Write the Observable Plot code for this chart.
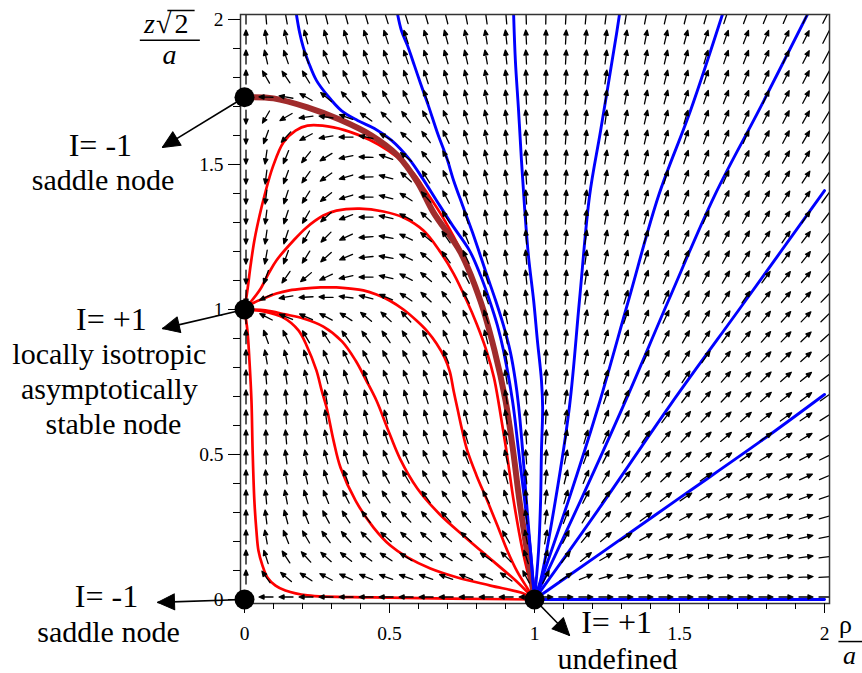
<!DOCTYPE html>
<html>
<head>
<meta charset="utf-8">
<script src="https://cdn.jsdelivr.net/npm/d3@7"></script>
<script src="https://cdn.jsdelivr.net/npm/@observablehq/plot@0.6"></script>
<style>
  html, body { margin: 0; padding: 0; background: #fff; }
</style>
</head>
<body>
<div id="chart"></div>
<script>
// Sample grid of the direction field (rho/a across, z*sqrt(2)/a up).
const gridX = [0, 0.069, 0.138, 0.207, 0.276, 0.345, 0.414, 0.483, 0.552, 0.621, 0.690, 0.759, 0.828, 0.897, 0.966,
               1.034, 1.103, 1.172, 1.241, 1.310, 1.379, 1.448, 1.517, 1.586, 1.655, 1.724, 1.793, 1.862, 1.931, 2.000];
const gridY = [0, 0.069, 0.138, 0.207, 0.276, 0.345, 0.414, 0.483, 0.552, 0.621, 0.690, 0.759, 0.828, 0.897, 0.966,
               1.034, 1.103, 1.172, 1.241, 1.310, 1.379, 1.448, 1.517, 1.586, 1.655, 1.724, 1.793, 1.862, 1.931, 2.000];

// Field direction at each grid node, degrees counter-clockwise from +rho; one row per gridY value.
const arrowAngles = [
  [null,180,180,180,180,180,180,180,180,180,180,180,180,180,180, 0,0,0,0,0,0,0,0,0,0,0,0,0,0,0],
  [90,125,140,147,152,155,158,160,161,161,160,158,155,145,118, 63,34,22,16,12,10,9,8,7,6,5,5,5,4,4],
  [90,108,123,132,138,142,145,147,148,149,149,148,145,135,108, 76,53,39,30,24,20,17,15,13,12,11,10,9,8,8],
  [90,100,112,120,126,131,135,138,139,140,140,138,133,120,101, 80,63,50,41,34,29,25,22,19,18,16,15,14,13,12],
  [90,97,105,112,118,123,127,130,132,132,132,129,124,113,98, 83,69,58,49,42,36,32,28,25,23,21,19,18,17,15],
  [90,95,101,107,112,117,121,124,126,126,125,122,117,108,96, 84,73,63,55,48,42,38,34,31,28,26,24,22,20,19],
  [90,94,99,103,107,111,115,118,120,120,119,117,112,105,95, 85,76,67,60,53,48,43,39,35,32,30,28,26,24,23],
  [90,93,97,100,104,107,110,113,114,115,114,112,108,103,94, 86,78,70,63,57,52,47,43,40,36,34,31,29,27,26],
  [90,92,95,98,101,103,106,108,110,110,109,107,104,100,94, 86,79,73,66,61,56,51,47,43,40,37,35,33,31,29],
  [90,92,94,97,99,101,103,105,106,106,106,104,102,99,94, 87,81,75,69,63,59,54,50,47,44,41,38,36,34,32],
  [90,92,95,97,100,102,104,106,107,107,106,104,102,99,95, 87,82,76,71,66,61,57,53,50,47,44,41,39,37,35],
  [90,95,98,102,105,108,111,112,112,111,108,105,102,99,96, 87,82,77,72,68,63,59,56,52,49,46,44,41,39,37],
  [90,100,104,108,112,115,117,118,118,116,112,107,103,100,96, 88,83,78,74,69,65,62,58,55,52,49,46,44,42,40],
  [90,110,115,120,123,125,126,125,123,119,114,109,104,100,97, 88,83,79,75,71,67,63,60,57,54,51,49,46,44,42],
  [90,153,158,156,152,147,141,137,132,127,121,115,108,102,97, 88,84,80,76,72,69,65,62,59,56,53,51,48,46,44],
  [270,205,190,183,178,173,166,157,147,137,127,117,109,102,97, 88,84,81,77,73,70,67,63,61,58,55,53,50,48,46],
  [270,250,235,220,205,192,180,167,153,140,128,117,108,101,96, 88,85,81,78,74,71,68,65,62,59,57,54,52,50,48],
  [270,260,250,238,222,203,185,170,155,140,126,115,106,99,95, 88,85,82,78,75,72,69,66,63,61,58,56,54,52,50],
  [270,262,252,240,225,205,184,170,155,140,125,112,103,97,94, 88,85,82,79,76,73,70,67,65,62,60,57,55,53,51],
  [270,263,252,240,222,200,180,168,152,137,122,108,100,95,93, 89,86,83,80,77,74,71,69,66,63,61,59,57,55,53],
  [270,263,252,238,218,197,180,165,148,132,118,108,102,97,94, 89,86,83,80,77,75,72,69,67,65,62,60,58,56,54],
  [270,263,250,235,215,197,182,165,138,122,115,108,103,98,94, 89,86,83,81,78,75,73,70,68,66,63,61,59,57,55],
  [270,262,248,232,212,192,178,160,142,128,118,109,102,97,94, 89,86,84,81,78,76,74,71,69,67,65,62,60,59,57],
  [270,250,228,208,190,180,168,150,138,127,116,107,100,96,93, 89,86,84,81,79,77,74,72,70,68,66,63,62,60,58],
  [270,240,210,188,172,160,145,135,128,120,113,107,102,97,94, 89,86,84,82,79,77,75,73,71,68,66,64,63,61,59],
  [270,178,170,150,140,132,125,120,115,110,106,103,100,96,93, 89,87,84,82,80,78,75,73,71,69,67,65,63,62,60],
  [90,120,124,121,117,115,113,112,110,108,106,103,100,96,93, 89,87,85,82,80,78,76,74,72,70,68,66,64,63,61],
  [90,103,109,111,112,111,110,110,109,108,106,103,100,96,93, 89,87,85,83,81,79,77,75,73,71,69,67,65,63,62],
  [90,97,102,105,106,107,108,108,108,107,105,102,99,96,93, 89,87,85,83,81,79,77,75,73,71,69,68,66,64,63],
  [90,95,100,102,104,105,106,107,107,106,104,101,98,95,92, 89,87,85,83,81,79,77,76,74,72,70,68,67,65,63]
];

// Separatrix from the ring to the upper saddle.
const separatrix = [[0,1.732],[0.100,1.728],[0.217,1.697],[0.328,1.655],[0.438,1.600],[0.528,1.531],[0.597,1.438],
  [0.652,1.334],[0.745,1.197],[0.814,1.028],[0.862,0.859],[0.900,0.686],[0.926,0.514],[0.948,0.341],[0.974,0.169],[1,0]];

// Trajectories ending in the stable node (0, 1).
const redTop = [[0,1],[0.010,1.066],[0.021,1.152],[0.034,1.238],[0.052,1.324],[0.069,1.393],[0.097,1.490],[0.134,1.576],
  [0.176,1.617],[0.217,1.634],[0.307,1.628],[0.390,1.603],[0.462,1.569],[0.528,1.524],[0.583,1.469],[0.624,1.410],
  [0.686,1.314],[0.752,1.190],[0.814,1.038],[0.862,0.866],[0.897,0.696],[0.924,0.514],[0.945,0.341],[0.970,0.169],[1,0]];
const redArchHigh = [[0,1],[0.017,1.021],[0.052,1.066],[0.083,1.124],[0.110,1.169],[0.169,1.238],[0.214,1.283],
  [0.272,1.324],[0.317,1.341],[0.397,1.348],[0.479,1.338],[0.548,1.317],[0.617,1.272],[0.672,1.203],[0.721,1.124],
  [0.766,1.031],[0.800,0.952],[0.834,0.859],[0.860,0.766],[0.879,0.662],[0.903,0.514],[0.928,0.341],[0.959,0.169],[1,0]];
const redArchLow = [[0,1],[0.028,1.021],[0.066,1.038],[0.110,1.055],[0.155,1.066],[0.203,1.072],[0.262,1.076],
  [0.317,1.076],[0.366,1.072],[0.410,1.066],[0.455,1.052],[0.500,1.031],[0.548,1.000],[0.593,0.962],[0.631,0.924],
  [0.662,0.883],[0.690,0.834],[0.708,0.786],[0.721,0.720],[0.735,0.655],[0.750,0.586],[0.768,0.514],[0.800,0.428],
  [0.837,0.341],[0.872,0.255],[0.906,0.169],[0.941,0.095],[0.976,0.038],[1,0]];
const redFanUpper = [[0,1],[0.072,0.997],[0.141,0.983],[0.203,0.969],[0.272,0.941],[0.336,0.890],[0.383,0.824],
  [0.420,0.755],[0.455,0.686],[0.493,0.590],[0.536,0.486],[0.596,0.383],[0.672,0.295],[0.762,0.214],[0.855,0.134],
  [0.934,0.066],[1,0]];
const redFanLower = [[0,1],[0.066,0.993],[0.134,0.972],[0.186,0.928],[0.214,0.876],[0.248,0.790],[0.266,0.721],
  [0.283,0.662],[0.307,0.548],[0.331,0.455],[0.383,0.341],[0.445,0.248],[0.503,0.186],[0.562,0.145],[0.641,0.107],
  [0.734,0.076],[0.848,0.048],[0.962,0.021],[1,0]];
const redBottom = [[0,1],[0.010,0.928],[0.017,0.824],[0.024,0.686],[0.028,0.514],[0.034,0.341],[0.041,0.238],
  [0.048,0.169],[0.062,0.117],[0.079,0.076],[0.107,0.048],[0.141,0.031],[0.217,0.014],[0.445,0.007],[0.710,0.003],[1,0]];

// Trajectories leaving the ring and escaping the frame.
const blueOuterLeft = [[0.179,2.017],[0.190,1.955],[0.203,1.903],[0.221,1.852],[0.248,1.790],[0.286,1.738],[0.334,1.686],
  [0.390,1.652],[0.448,1.624],[0.507,1.583],[0.566,1.521],[0.614,1.452],[0.662,1.376],[0.717,1.290],[0.776,1.203],
  [0.814,1.117],[0.845,1.031],[0.872,0.945],[0.893,0.859],[0.924,0.686],[0.945,0.514],[0.966,0.341],[0.986,0.169],[1,0]];
const blueLeft = [[0.528,2.017],[0.541,1.962],[0.562,1.910],[0.586,1.841],[0.607,1.779],[0.634,1.703],[0.666,1.607],
  [0.697,1.524],[0.721,1.445],[0.752,1.359],[0.786,1.266],[0.834,1.124],[0.866,1.031],[0.893,0.945],[0.917,0.852],
  [0.934,0.755],[0.945,0.669],[0.959,0.514],[0.972,0.341],[0.986,0.169],[1,0]];
const blueUp = [[0.928,2.017],[0.934,1.859],[0.945,1.686],[0.955,1.514],[0.966,1.348],[0.979,1.186],[0.997,1.031],
  [1.010,0.893],[1.024,0.755],[1.028,0.662],[1.024,0.514],[1.021,0.341],[1.014,0.169],[1,0]];
const blueSteep = [[1.293,2.017],[1.283,1.952],[1.228,1.617],[1.190,1.393],[1.155,1.031],[1.121,0.669],[1.072,0.341],[1.021,0.066],[1,0]];
const blueMid = [[1.648,2.017],[1.538,1.686],[1.428,1.393],[1.324,1.031],[1.221,0.669],[1.117,0.341],[1,0]];
const blueWide = [[1.941,2.017],[1.779,1.697],[1.621,1.393],[1.462,1.031],[1.310,0.676],[1.159,0.341],[1,0]];
const blueDiag = [[1,0],[1.228,0.321],[1.469,0.672],[1.728,1.031],[2,1.410]];
const blueLow = [[1,0],[1.228,0.159],[1.503,0.352],[1.779,0.545],[2,0.707]];
const blueAxis = [[1,0],[2,0]];

// Equilibria and the ring.
const criticalPoints = [{x: 0, y: 0}, {x: 0, y: 1}, {x: 0, y: 1.732}, {x: 1, y: 0}];

// Pointer arrows from each point to its note.
const pointers = [
  {x1: 0, y1: 1.732, x2: -0.283, y2: 1.559},
  {x1: 0, y1: 1, x2: -0.283, y2: 0.934},
  {x1: 0, y1: 0, x2: -0.300, y2: -0.010},
  {x1: 1, y1: 0, x2: 1.121, y2: -0.124}
];
const indexLabels = [
  {text: "I= -1", x: -0.497, y: 1.531},
  {text: "I= +1", x: -0.459, y: 0.931},
  {text: "I= -1", x: -0.476, y: -0.027},
  {text: "I= +1", x: 1.283, y: -0.117}
];
const nodeNotes = [
  {text: "saddle node", x: -0.488, y: 1.412},
  {text: "locally isotropic", x: -0.466, y: 0.812},
  {text: "asymptotically", x: -0.466, y: 0.693},
  {text: "stable node", x: -0.452, y: 0.572},
  {text: "saddle node", x: -0.469, y: -0.145},
  {text: "undefined", x: 1.286, y: -0.238}
];

// Axis titles: z*sqrt(2)/a on the left, rho/a on the right.
const titleItalic = [{text: "z", x: -0.328, y: 1.952}, {text: "a", x: -0.259, y: 1.845}];
const titleUpright = [{text: "√", x: -0.279, y: 1.952}, {text: "2", x: -0.217, y: 1.952}];
const xTitleTop = [{text: "ρ", x: 2.072, y: -0.117}];
const xTitleBottom = [{text: "a", x: 2.086, y: -0.221}];
const titleBars = [{x1: -0.361, x2: -0.154, y: 1.928}, {x1: -0.266, x2: -0.172, y: 2.031}, {x1: 2.048, x2: 2.131, y: -0.145}];

const majorTicks = [0, 0.5, 1, 1.5, 2];
const minorTicks = [0, 0.1, 0.2, 0.3, 0.4, 0.5, 0.6, 0.7, 0.8, 0.9, 1, 1.1, 1.2, 1.3, 1.4, 1.5, 1.6, 1.7, 1.8, 1.9, 2];

// ---- derived tables ----
const arrows = [];
arrowAngles.forEach((row, j) => row.forEach((a, i) => {
  if (a == null) return;
  arrows.push({x: gridX[i], y: gridY[j], angle: a, edge: gridX[i] >= 2 || gridY[j] >= 2});
}));
const toRows = (paths) => paths.flatMap((pts, k) => pts.map(([x, y]) => ({x, y, k})));
const redRows = toRows([redTop, redArchHigh, redArchLow, redFanUpper, redFanLower, redBottom]);
const blueRows = toRows([blueOuterLeft, blueLeft, blueUp, blueSteep, blueMid, blueWide, blueDiag, blueLow, blueAxis]);
const brownRows = toRows([separatrix]);

// Arrow glyphs (drawn pointing up, rotated by the vector mark).
const fieldArrow = {
  draw(context, l) {
    const head = 5, half = 2.1;
    context.moveTo(0, 0);
    context.lineTo(0, -l + head);
    context.moveTo(0, -l);
    context.lineTo(half, -l + head);
    context.lineTo(-half, -l + head);
    context.closePath();
  }
};
const fieldShaft = {draw(context, l) { context.moveTo(0, 0); context.lineTo(0, -l); }};
const pointerHead = {
  draw(context, l) {
    const half = 8;
    context.moveTo(0, -l);
    context.lineTo(half, 0);
    context.lineTo(-half, 0);
    context.closePath();
  }
};
const heading = (d) => 90 - Math.atan2(d.y2 - d.y1, d.x2 - d.x1) * 180 / Math.PI;

const serif = "Liberation Serif";
const textStyle = {x: "x", y: "y", text: "text", lineAnchor: "bottom", fill: "#000", fontFamily: serif};

const chart = Plot.plot({
  width: 862,
  height: 673,
  marginLeft: 240,
  marginRight: 33,
  marginTop: 14,
  marginBottom: 70,
  x: {domain: [-0.0138, 2.0172], label: null},
  y: {domain: [-0.0138, 2.0172], label: null},
  style: {fontFamily: serif, background: "#fff", color: "#000", overflow: "visible"},
  marks: [
    Plot.line(redRows, {x: "x", y: "y", z: "k", stroke: "#ff0000", strokeWidth: 2.7, curve: "catmull-rom", clip: true}),
    Plot.line(brownRows, {x: "x", y: "y", z: "k", stroke: "#a02c2c", strokeWidth: 6, curve: "catmull-rom", clip: true}),
    Plot.line(blueRows, {x: "x", y: "y", z: "k", stroke: "#0000ff", strokeWidth: 2.9, curve: "catmull-rom", clip: true}),
    Plot.vector(arrows.filter(d => !d.edge), {
      x: "x", y: "y", rotate: d => 90 - d.angle, length: 14, anchor: "middle", dx: 1.5, dy: -2.5,
      shape: fieldArrow, stroke: "#000", fill: "#000", strokeWidth: 1.3, clip: true
    }),
    Plot.vector(arrows.filter(d => d.edge), {
      x: "x", y: "y", rotate: d => 90 - d.angle, length: 14, anchor: "middle", dx: 1.5, dy: -2.5,
      shape: fieldShaft, stroke: "#000", strokeWidth: 1.3, clip: true
    }),
    Plot.frame({stroke: "#333", strokeWidth: 1.5}),
    Plot.axisX({ticks: minorTicks, tickSize: 6, tickFormat: () => "", label: null}),
    Plot.axisX({ticks: majorTicks, tickSize: 10, tickPadding: 13, fontSize: 19.5, fontFamily: serif, tickFormat: d => String(d), label: null}),
    Plot.axisY({ticks: minorTicks, tickSize: 7, tickFormat: () => "", label: null}),
    Plot.axisY({ticks: majorTicks, tickSize: 12, tickPadding: 5, fontSize: 19.5, fontFamily: serif, tickFormat: d => String(d), label: null}),
    Plot.dot(criticalPoints, {x: "x", y: "y", r: 10, fill: "#000"}),
    Plot.link(pointers, {x1: "x1", y1: "y1", x2: "x2", y2: "y2", stroke: "#000", strokeWidth: 1.6}),
    Plot.vector(pointers, {
      x: "x2", y: "y2", rotate: heading, length: 17, anchor: "end",
      shape: pointerHead, stroke: "#000", fill: "#000", strokeWidth: 1
    }),
    Plot.text(indexLabels, {...textStyle, fontSize: 32}),
    Plot.text(nodeNotes, {...textStyle, fontSize: 30}),
    Plot.text(titleItalic, {...textStyle, fontSize: 28, fontStyle: "italic"}),
    Plot.text(titleUpright, {...textStyle, fontSize: 28}),
    Plot.text(xTitleTop, {...textStyle, fontSize: 26}),
    Plot.text(xTitleBottom, {...textStyle, fontSize: 26, fontStyle: "italic"}),
    Plot.link(titleBars, {x1: "x1", x2: "x2", y1: "y", y2: "y", stroke: "#000", strokeWidth: 1.5})
  ]
});

document.getElementById("chart").append(chart);
</script>
</body>
</html>
